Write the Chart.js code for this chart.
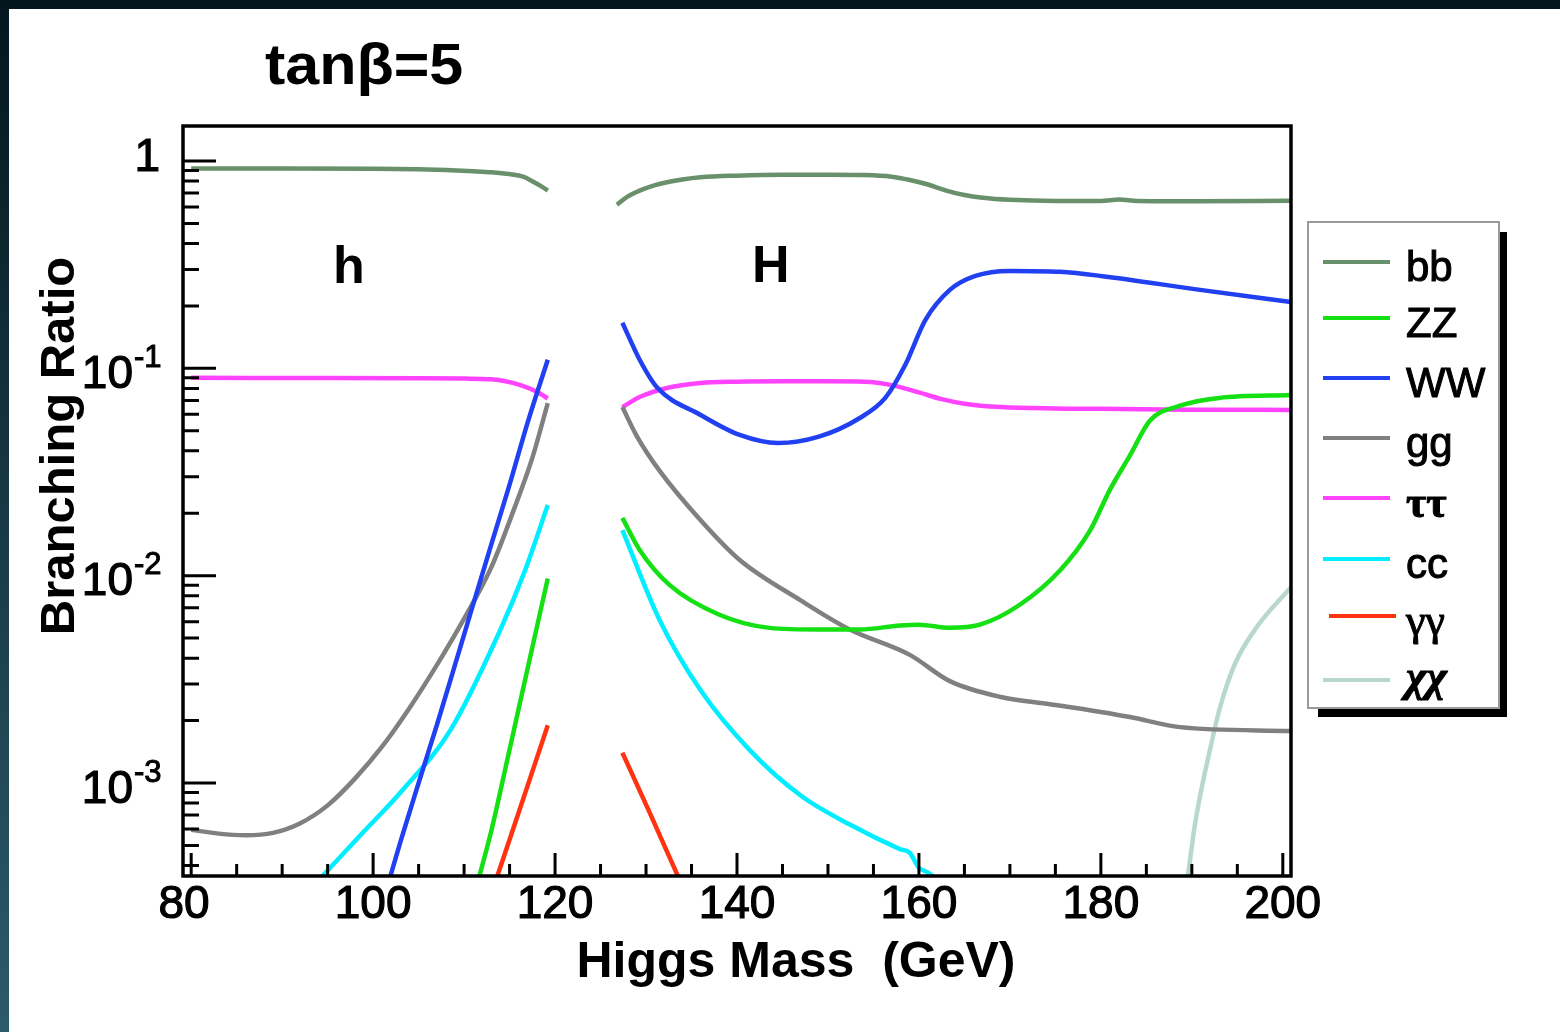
<!DOCTYPE html>
<html>
<head>
<meta charset="utf-8">
<script src="https://cdn.jsdelivr.net/npm/chart.js@4.4.1/dist/chart.umd.min.js"></script>
<style>
  html, body { margin: 0; padding: 0; }
  body { width: 1560px; height: 1032px; overflow: hidden; position: relative;
         background: linear-gradient(#03161e, #2c5b6b); }
  #wrap { position: absolute; left: 9px; top: 9px; width: 1551px; height: 1023px; background: #fff; }
</style>
</head>
<body>
<div id="wrap"><canvas id="brChart"></canvas></div>
<script>
// axis ranges and tick labels
const massMin = 79.1;
const massMax = 200.9;
const brMin = 3.56e-4;
const brMax = 1.475;
const massTicks = [80, 100, 120, 140, 160, 180, 200];
const brDecades = [0, -1, -2, -3];

// legend order and colours
const channels = ['bb', 'ZZ', 'WW', 'gg', 'ττ', 'cc', 'γγ', 'χχ'];
const channelColors = ['#68906a', '#14e014', '#2040f2', '#808080', '#ff44ff', '#00eeff', '#ff3311', '#b8d8cf'];

// light scalar h (left branch)
const bbLightMass = [80, 90, 100, 105, 108, 111, 113, 115, 116.5, 117.6, 118.5, 119.2];
const bbLightBR   = [0.92, 0.92, 0.918, 0.912, 0.905, 0.893, 0.883, 0.865, 0.84, 0.795, 0.755, 0.72];
const zzLightMass = [111.4, 113, 115, 117, 119.2];
const zzLightBR   = [3.2e-4, 5.9e-4, 1.45e-3, 3.6e-3, 9.7e-3];
const wwLightMass = [101.6, 103, 105, 107, 110, 113, 115, 117, 119.2];
const wwLightBR   = [3.2e-4, 5.2e-4, 1.0e-3, 1.9e-3, 5.2e-3, 0.0142, 0.0275, 0.055, 0.11];
const ggLightMass = [80, 83, 86, 89, 92, 95, 98, 101, 104, 107, 110, 113, 115.5, 117.5, 119.2];
const ggLightBR   = [5.95e-4, 5.7e-4, 5.6e-4, 5.75e-4, 6.4e-4, 7.8e-4, 1.05e-3, 1.5e-3, 2.3e-3, 3.7e-3, 6.2e-3, 0.011, 0.021, 0.037, 0.068];
const ttLightMass = [80, 95, 105, 110, 113, 116.2, 118, 119.2];
const ttLightBR   = [0.09, 0.0898, 0.0895, 0.0892, 0.0885, 0.083, 0.077, 0.0715];
const ccLightMass = [94, 98.6, 103, 108.5, 114, 116.7, 119.2];
const ccLightBR   = [3.4e-4, 5.6e-4, 9.0e-4, 1.8e-3, 5.5e-3, 0.0106, 0.0219];
const aaLightMass = [113.4, 116, 119.2];
const aaLightBR   = [3.3e-4, 7.2e-4, 1.9e-3];

// heavy scalar H (right branch)
const bbHeavyMass = [126.8, 128, 129.3, 131, 132.3, 134, 136, 140, 145, 150, 154, 157, 159, 161, 163, 165, 167, 170, 175, 180, 182, 184, 190, 200.9];
const bbHeavyBR   = [0.615, 0.675, 0.72, 0.765, 0.79, 0.815, 0.835, 0.85, 0.858, 0.858, 0.855, 0.84, 0.81, 0.77, 0.72, 0.685, 0.665, 0.65, 0.642, 0.642, 0.652, 0.642, 0.64, 0.643];
const zzHeavyMass = [127.4, 129.3, 132.6, 138, 143.6, 149, 153.5, 157.9, 160, 163.4, 166.7, 171, 175.5, 178.8, 181, 183.2, 185.4, 188.7, 193, 200.9];
const zzHeavyBR   = [0.019, 0.0133, 9e-3, 6.5e-3, 5.6e-3, 5.5e-3, 5.5e-3, 5.75e-3, 5.8e-3, 5.6e-3, 5.8e-3, 7.2e-3, 0.0106, 0.0165, 0.026, 0.038, 0.056, 0.066, 0.072, 0.0743];
const wwHeavyMass = [127.4, 129.3, 131.2, 136, 140.3, 144.5, 149, 153.5, 156.3, 158.5, 160.7, 163.4, 166.2, 170, 175.5, 180, 190.9, 200.9];
const wwHeavyBR   = [0.166, 0.11, 0.081, 0.0596, 0.0477, 0.0436, 0.0468, 0.0576, 0.072, 0.104, 0.171, 0.239, 0.279, 0.295, 0.292, 0.279, 0.239, 0.209];
const ggHeavyMass = [127.4, 129, 131.5, 136, 140.3, 147, 152.4, 159, 163.4, 169, 174.4, 180, 183.2, 188.7, 200.9];
const ggHeavyBR   = [0.065, 0.047, 0.032, 0.0185, 0.0119, 7.6e-3, 5.5e-3, 4.15e-3, 3.1e-3, 2.6e-3, 2.4e-3, 2.2e-3, 2.08e-3, 1.86e-3, 1.78e-3];
const ttHeavyMass = [127.4, 129.3, 132.3, 136, 140, 145, 150, 154, 157, 160, 162.5, 165, 169, 175, 180, 190, 200.9];
const ttHeavyBR   = [0.065, 0.0727, 0.0804, 0.085, 0.0862, 0.0866, 0.0866, 0.0862, 0.083, 0.0765, 0.071, 0.0675, 0.065, 0.064, 0.0638, 0.0632, 0.063];
const ccHeavyMass = [127.4, 131.5, 136, 141.4, 147, 152.4, 157.9, 159, 160, 161, 162];
const ccHeavyBR   = [0.0166, 6.1e-3, 2.8e-3, 1.44e-3, 8.7e-4, 6.3e-4, 4.8e-4, 4.6e-4, 3.9e-4, 3.7e-4, 3.4e-4];
const aaHeavyMass = [127.4, 130.4, 133.7];
const aaHeavyBR   = [1.4e-3, 7.2e-4, 3.4e-4];
const xxHeavyMass = [189.4, 189.56, 190.33, 191.1, 191.98, 193.08, 194.73, 197.14, 200.9];
const xxHeavyBR   = [3.2e-4, 3.56e-4, 6.26e-4, 9.55e-4, 1.44e-3, 2.3e-3, 3.75e-3, 5.65e-3, 8.8e-3];

const curves = [
  ['bb', bbLightMass, bbLightBR], ['bb', bbHeavyMass, bbHeavyBR],
  ['ZZ', zzLightMass, zzLightBR], ['ZZ', zzHeavyMass, zzHeavyBR],
  ['WW', wwLightMass, wwLightBR], ['WW', wwHeavyMass, wwHeavyBR],
  ['gg', ggLightMass, ggLightBR], ['gg', ggHeavyMass, ggHeavyBR],
  ['ττ', ttLightMass, ttLightBR], ['ττ', ttHeavyMass, ttHeavyBR],
  ['cc', ccLightMass, ccLightBR], ['cc', ccHeavyMass, ccHeavyBR],
  ['γγ', aaLightMass, aaLightBR], ['γγ', aaHeavyMass, aaHeavyBR],
  ['χχ', xxHeavyMass, xxHeavyBR]
];

const OFF = 9; // white panel offset inside the page
const SANS = '"Liberation Sans", Arial, sans-serif';
const SERIF = '"Liberation Serif", "DejaVu Serif", serif';

// fill plus a thin outline so the text looks as heavy as the ROOT rendering
function heavyText(ctx, text, x, y, weight) {
  ctx.fillText(text, x, y);
  ctx.lineWidth = weight;
  ctx.strokeStyle = ctx.fillStyle;
  ctx.strokeText(text, x, y);
}

const rootStyle = {
  id: 'rootStyle',
  afterDraw(chart) {
    const ctx = chart.ctx;
    const a = chart.chartArea;
    const xs = chart.scales.x, ys = chart.scales.y;
    ctx.save();

    // frame and inward ticks
    ctx.strokeStyle = '#000';
    ctx.lineWidth = 3.5;
    ctx.strokeRect(a.left, a.top, a.right - a.left, a.bottom - a.top);
    ctx.lineWidth = 3;
    ctx.beginPath();
    for (let d = -4; d <= 0; d++) {
      for (let k = 1; k <= 9; k++) {
        const v = k * Math.pow(10, d);
        if (v < ys.min || v > ys.max) continue;
        const y = ys.getPixelForValue(v);
        ctx.moveTo(a.left, y);
        ctx.lineTo(a.left + (k === 1 ? 33 : 16), y);
      }
    }
    for (let m = 80; m <= 200; m += 5) {
      const x = xs.getPixelForValue(m);
      ctx.moveTo(x, a.bottom);
      ctx.lineTo(x, a.bottom - (m % 20 === 0 ? 23 : 12));
    }
    ctx.stroke();

    ctx.fillStyle = '#000';
    // x tick labels
    ctx.font = '46px ' + SANS;
    ctx.textAlign = 'center';
    ctx.textBaseline = 'alphabetic';
    massTicks.forEach(m => {
      const x = m === 80 ? 184 - OFF : xs.getPixelForValue(m);
      heavyText(ctx, String(m), x, 918 - OFF, 1.2);
    });

    // y tick labels with superscripts
    brDecades.forEach(d => {
      const y = ys.getPixelForValue(Math.pow(10, d));
      ctx.font = '46px ' + SANS;
      ctx.textAlign = 'right';
      ctx.textBaseline = 'middle';
      if (d === 0) {
        heavyText(ctx, '1', 160 - OFF, y - 3, 1.2);
      } else {
        heavyText(ctx, '10', 133 - OFF, y + 7, 1.2);
        ctx.font = '31px ' + SANS;
        ctx.textAlign = 'left';
        heavyText(ctx, '-' + Math.abs(d), 134 - OFF, y - 10, 1);
      }
    });

    // axis titles
    ctx.font = 'bold 50px ' + SANS;
    ctx.textAlign = 'center';
    ctx.textBaseline = 'alphabetic';
    ctx.fillText('Higgs Mass  (GeV)', 796 - OFF, 977 - OFF);
    ctx.save();
    ctx.translate(74 - OFF, 446 - OFF);
    ctx.rotate(-Math.PI / 2);
    ctx.font = 'bold 49px ' + SANS;
    ctx.fillText('Branching Ratio', 0, 0);
    ctx.restore();

    // title and branch labels
    ctx.textAlign = 'left';
    ctx.save();
    ctx.translate(265 - OFF, 84 - OFF);
    ctx.scale(1.07, 1);
    ctx.font = 'bold 57px ' + SANS;
    ctx.fillText('tanβ=5', 0, 0);
    ctx.restore();
    ctx.font = 'bold 52px ' + SANS;
    ctx.fillText('h', 333 - OFF, 283 - OFF);
    ctx.fillText('H', 752 - OFF, 282 - OFF);

    // legend box with shadow
    const lx = 1308 - OFF, ly = 222 - OFF, lw = 191, lh = 486;
    ctx.fillStyle = '#000';
    ctx.fillRect(lx + 10, ly + 10, lw - 2, lh - 1);
    ctx.fillStyle = '#fff';
    ctx.fillRect(lx, ly, lw, lh);
    ctx.strokeStyle = '#9a9a9a';
    ctx.lineWidth = 2;
    ctx.strokeRect(lx, ly, lw, lh);

    const rowY = [262, 318, 378, 438, 498, 559, 616, 680];
    channels.forEach((name, i) => {
      const y = rowY[i] - OFF;
      const shift = name === 'γγ' ? 6 : 0;
      ctx.strokeStyle = channelColors[i];
      ctx.lineWidth = 4;
      ctx.beginPath();
      ctx.moveTo(1323 - OFF + shift, y);
      ctx.lineTo(1390 - OFF + shift, y);
      ctx.stroke();
      ctx.fillStyle = '#000';
      let base = y + 19;
      if (name === 'ττ') ctx.font = 'bold 44px ' + SERIF;
      else if (name === 'γγ') ctx.font = '44px ' + SERIF;
      else if (name === 'χχ') { ctx.font = 'italic bold 44px ' + SERIF; base = y + 11; }
      else ctx.font = '42px ' + SANS;
      ctx.textAlign = 'left';
      heavyText(ctx, name, 1406 - OFF, base, 1);
    });

    ctx.restore();
  }
};

const datasets = curves.map(([name, mass, br]) => {
  const color = channelColors[channels.indexOf(name)];
  return {
    label: name,
    data: mass.map((m, i) => ({ x: m, y: br[i] })),
    borderColor: color,
    backgroundColor: color,
    borderWidth: 4.5,
    pointRadius: 0,
    cubicInterpolationMode: 'monotone',
    fill: false
  };
});

new Chart(document.getElementById('brChart').getContext('2d'), {
  type: 'line',
  data: { datasets: datasets },
  options: {
    responsive: true,
    maintainAspectRatio: false,
    animation: false,
    layout: { padding: { left: 183 - OFF, top: 126 - OFF, right: 1560 - 1291, bottom: 1032 - 876 } },
    plugins: { legend: { display: false }, tooltip: { enabled: false } },
    scales: {
      x: { type: 'linear', min: massMin, max: massMax, bounds: 'data', display: false },
      y: { type: 'logarithmic', min: brMin, max: brMax, bounds: 'data', display: false }
    }
  },
  plugins: [rootStyle]
});
</script>
</body>
</html>
